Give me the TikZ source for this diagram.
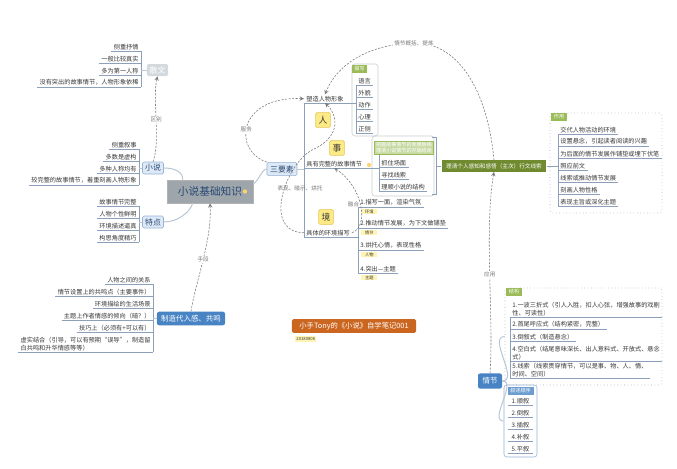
\documentclass[tikz,border=0pt]{standalone}
\usepackage{fontspec}
\setmainfont{Noto Sans CJK SC}
\usepackage{tikz}
\usetikzlibrary{positioning,arrows,calc}
\definecolor{LineGray}{RGB}{185,198,212}
\definecolor{ULine}{RGB}{140,160,185}
\definecolor{TextGray}{RGB}{55,55,55}
\definecolor{LightBlue}{RGB}{221,233,246}
\definecolor{BlueEdge}{RGB}{150,180,215}
\definecolor{DarkBlue}{RGB}{40,72,115}
\definecolor{MidBlue}{RGB}{72,132,196}
\definecolor{CenterGray}{RGB}{158,166,172}
\definecolor{PaleGray}{RGB}{212,217,222}
\definecolor{Yel}{RGB}{252,234,135}
\definecolor{YelEdge}{RGB}{232,196,80}
\definecolor{TagYel}{RGB}{255,244,180}
\definecolor{Grn}{RGB}{155,187,89}
\definecolor{Olive}{RGB}{112,138,48}
\definecolor{Rust}{RGB}{203,102,32}
\definecolor{DashGray}{RGB}{120,120,120}
\definecolor{BoxEdge}{RGB}{200,205,210}
\newcommand{\leaffont}{\fontsize{4.4}{5.6}\selectfont}
\newcommand{\tinyfont}{\fontsize{3.6}{4.2}\selectfont}

\begin{document}
\begin{tikzpicture}[x=0.025cm,y=-0.025cm,
	leaf/.style={inner xsep=1.5pt,inner ysep=0.8pt,font=\leaffont,text=TextGray},
	uline/.style={draw=ULine,line width=0.4pt},
	conn/.style={draw=LineGray,line width=0.7pt},
	topic/.style={rectangle,rounded corners=1pt,fill=LightBlue,draw=BlueEdge,text=DarkBlue,
		font=\fontsize{5.6}{6}\selectfont,inner sep=0pt},
	bluetopic/.style={rectangle,rounded corners=1.5pt,fill=MidBlue,text=white,
		font=\fontsize{5.3}{6}\selectfont,inner sep=0pt},
	yelbox/.style={rectangle,rounded corners=1pt,fill=Yel,draw=YelEdge,text=TextGray,
		font=\fontsize{6.2}{6.5}\selectfont,minimum size=0.37cm,inner sep=0pt},
	grnhead/.style={rectangle,fill=Grn,text=white,font=\tinyfont,minimum width=0.38cm,
		minimum height=0.2cm,inner sep=0pt},
	tagbox/.style={rectangle,fill=TagYel,text=TextGray,font=\fontsize{3}{3.5}\selectfont,
		inner sep=0.6pt,minimum width=0.4cm,anchor=north west},
	group/.style={rectangle,rounded corners=2pt,draw=BoxEdge,line width=0.4pt},
	dotgroup/.style={group,dotted,draw=gray!70},
	lbl/.style={font=\fontsize{4}{4.5}\selectfont,text=DashGray,inner sep=0.6pt},
	link/.style={draw=DashGray,dash pattern=on 1.5pt off 1pt,line width=0.4pt,->,>=stealth}]

	\useasboundingbox (0,0) rectangle (677,468);
	\fill[white] (0,0) rectangle (677,468);

	\node[rectangle,fill=CenterGray,draw=gray!60,text=DarkBlue,minimum width=2.15cm,
		minimum height=0.575cm,inner sep=0pt,font=\fontsize{7.6}{8}\selectfont] (root) at (210,191.5) {小说基础知识\hspace{0.25cm}};
	\node[circle,fill=Yel!80!orange,inner sep=0pt,minimum size=3pt] (rootdot) at (245,191.5) {};

	\node[topic,minimum width=0.525cm,minimum height=0.3cm] (xs) at (153,168) {小说};
	\node[topic,minimum width=0.525cm,minimum height=0.3cm] (td) at (153,222) {特点};
	\node[rectangle,rounded corners=1pt,fill=PaleGray,text=white,font=\fontsize{5.6}{6}\selectfont,
		minimum width=0.525cm,minimum height=0.3cm,inner sep=0pt] (sw) at (157.5,70) {散文};
	\node[topic,minimum width=0.75cm,minimum height=0.33cm] (sys) at (282,169) {三要素};
	\node[bluetopic,minimum width=1.7cm,minimum height=0.34cm] (zz) at (191,318.5) {制造代入感、共鸣};
	\node[bluetopic,minimum width=0.6cm,minimum height=0.38cm] (qj) at (490,381) {情节};

	\foreach \t [count=\i] in {侧重抒情,一般比较真实,多为第一人称,没有突出的故事情节，人物形象依稀} {
		\node[leaf,anchor=south east] (sw\i) at (141,{39+12*\i}) {\t};
		\draw[uline] (sw\i.south west) -- (sw\i.south east);
	}
	\draw[uline] (sw1.south east) -- (sw4.south east);
	\draw[conn] (sw.west) -- (sw.west -| sw1.south east);

	\foreach \t [count=\i] in {侧重叙事,多数是虚构,多种人称均有,较完整的故事情节，着重刻画人物形象} {
		\node[leaf,anchor=south east] (xs\i) at (139,{137+12*\i}) {\t};
		\draw[uline] (xs\i.south west) -- (xs\i.south east);
	}
	\draw[uline] (xs1.south east) -- (xs4.south east);
	\draw[conn] (xs.west) -- (xs.west -| xs1.south east);

	\foreach \t [count=\i] in {故事情节完整,人物个性鲜明,环境描述逼真,构思角度精巧} {
		\node[leaf,anchor=south east] (td\i) at (139,{194+12*\i}) {\t};
		\draw[uline] (td\i.south west) -- (td\i.south east);
	}
	\draw[uline] (td1.south east) -- (td4.south east);
	\draw[conn] (td.west) -- (td.west -| td1.south east);

	\foreach \t [count=\i] in {人物之间的关系,情节设置上的共鸣点（主要事件）,环境描绘的生活场景,主题上作者情感的倾向（暗？）,技巧上（必须有+可以有）} {
		\node[leaf,anchor=south east] (zl\i) at (153,{272+12*\i}) {\t};
		\draw[uline] (zl\i.south west) -- (zl\i.south east);
	}
	\node[leaf,anchor=south east,align=left] (zl6) at (153,352) {虚实结合（引导，可以有预期“误导”，制造留\\白共鸣和升华情感等等）};
	\draw[uline] (zl6.south west) -- (zl6.south east);
	\draw[uline] (zl1.south east) -- (zl6.south east);
	\draw[conn] (zz.west) -- (zz.west -| zl1.south east);

	\draw[conn] (xs.east) .. controls (175,168) and (183,172) .. ($(root.north west)+(16,0)$);
	\draw[conn] (td.east) .. controls (178,222) and (190,212) .. ($(root.south west)+(26,0)$);
	\draw[conn] (sys.west) .. controls (262,169) and (258,182) .. ($(root.north east)+(0,4)$);

	\node[leaf,anchor=south west] (sz) at (304,103) {塑造人物形象};
	\node[leaf,anchor=south west] (gs) at (304,168) {具有完整的故事情节};
	\node[leaf,anchor=south west] (hj) at (304,237) {具体的环境描写};
	\draw[uline] (sz.south west) -- (sz.south east);
	\draw[uline] (gs.south west) -- (gs.south east);
	\draw[uline] (hj.south west) -- (hj.south east);
	\draw[uline] (sz.south west) -- (hj.south west);
	\draw[conn] (sys.east) -- (sys.east -| gs.south west);
	\node[circle,fill=Yel!80!orange,inner sep=0pt,minimum size=3pt] (gsdot) at (369,165) {};

	\node[yelbox] (ren) at (323,120) {人};
	\node[yelbox] (shi) at (337,148) {事};
	\node[yelbox] (jing) at (326,217) {境};

	\node[group,minimum width=0.65cm,minimum height=1.8cm] (mbox) at (365,100) {};
	\node[grnhead] (mx) at (359.5,69) {描写};
	\foreach \t [count=\i] in {语言,外貌,动作,心理,正侧} {
		\node[leaf,anchor=south west] (ms\i) at (356,{73+12*\i}) {\t};
		\draw[uline] (ms\i.south west) -- (ms\i.south east);
	}
	\draw[uline] (ms1.south west) -- (ms5.south west);
	\draw[uline] (sz.south east) -- (sz.south east -| ms1.south west);

	\node[group,minimum width=1.55cm,minimum height=1.5cm] (sbox) at (403,166) {};
	\node[rectangle,fill=Grn!55,draw=Grn,text=white,font=\tinyfont,align=center,inner sep=1pt,
		minimum width=1.35cm] (note) at (404,148) {把握故事情节的发展脉络\\理清小说情节的开端结局};
	\foreach \t [count=\i] in {抓住场面,寻找线索,理顺小说的结构} {
		\node[leaf,anchor=south west] (ss\i) at (379,{155+12*\i}) {\t};
		\draw[uline] (ss\i.south west) -- (ss\i.south east);
	}
	\draw[uline] (ss1.south west |- note.south) -- (ss3.south west);
	\draw[uline] (gs.south east) -- (gs.south east -| ss1.south west);

	\node[rectangle,fill=Olive,text=white,font=\fontsize{4}{5}\selectfont,minimum width=2.62cm,
		minimum height=0.28cm,inner sep=0pt] (lead) at (494,166) {理清个人感知和感悟（主次）行文线索};
	\draw[uline] ($(sbox.north east)+(-2,2)$) -- ($(sbox.north east)+(2,2)$)
		-- ($(sbox.south east)+(2,-2)$) -- ($(sbox.south east)+(-2,-2)$);
	\draw[uline] ($(sbox.east)+(2,0)$) -- (lead.west);

	\node[leaf,anchor=south west] (hl1) at (358,207) {1.描写一面，渲染气氛};
	\node[leaf,anchor=south west] (hl2) at (358,228) {2.推动情节发展，为下文做铺垫};
	\node[leaf,anchor=south west] (hl3) at (358,250) {3.烘托心情，表现性格};
	\node[leaf,anchor=south west] (hl4) at (358,273) {4.突出—主题};
	\foreach \t [count=\i] in {环境,情节,人物,主题} {
		\draw[uline] (hl\i.south west) -- (hl\i.south east);
		\node[tagbox] (ht\i) at ($(hl\i.south west)+(3,1.5)$) {\t};
	}
	\draw[uline] (hl1.south west) -- (hl4.south west);
	\draw[uline] (hj.south east) -- (hj.south east -| hl1.south west);

	\node[dotgroup,minimum width=2.8cm,minimum height=2.5cm] (zbox) at (606,163) {};
	\node[grnhead] (zy) at (559,117) {作用};
	\foreach \t [count=\i] in {交代人物活动的环境,设置悬念，引起读者阅读的兴趣,为后面的情节发展作铺垫或埋下伏笔,照应前文,线索或推动情节发展,刻画人物性格,表现主旨或深化主题} {
		\node[leaf,anchor=south west] (zyl\i) at (558,{122+12*\i}) {\t};
		\draw[uline] (zyl\i.south west) -- (zyl\i.south east);
	}
	\draw[uline] (zyl1.south west) -- (zyl7.south west);
	\draw[uline] (lead.east) -- (lead.east -| zyl1.south west);

	\node[dotgroup,minimum width=3.925cm,minimum height=2.425cm] (jbox) at (583.5,336.5) {};
	\node[grnhead] (jt) at (514,292) {结构};
	\node[leaf,anchor=south west,align=left] (jl1) at (510,317) {1.一波三折式（引人入胜，扣人心弦，增强故事的戏剧\\性、可读性）};
	\node[leaf,anchor=south west] (jl2) at (510,329) {2.首尾呼应式（结构紧密，完整）};
	\node[leaf,anchor=south west] (jl3) at (510,341) {3.倒叙式（制造悬念）};
	\node[leaf,anchor=south west,align=left] (jl4) at (510,361) {4.空白式（结尾意味深长、出人意料式、开放式、悬念\\式）};
	\node[leaf,anchor=south west,align=left] (jl5) at (510,378) {5.线索（线索贯穿情节，可以是事、物、人、情、\\时间、空间）};
	\foreach \i in {1,...,5} \draw[uline] (jl\i.south west) -- (jl\i.south east);
	\draw[uline] (jl1.south west) -- (jl5.south west);

	\node[group,draw=BlueEdge,minimum width=0.825cm,minimum height=1.8cm] (xbox) at (520.5,421) {};
	\node[rectangle,fill=MidBlue!80,text=white,font=\tinyfont,minimum width=0.65cm,
		minimum height=0.2cm,inner sep=0pt] (xh) at (520.5,391) {叙述顺序};
	\foreach \t [count=\i] in {1.顺叙,2.倒叙,3.插叙,4.补叙,5.平叙} {
		\node[leaf,anchor=south,minimum width=0.625cm] (xl\i) at (520.5,{393+12*\i}) {\t};
		\draw[uline] (xl\i.south west) -- (xl\i.south east);
	}
	\draw[conn] (qj.east) to[out=0,in=180] (jbox.west);
	\draw[conn] (qj.east) to[out=0,in=180] (xbox.west);

	\node[rectangle,rounded corners=1pt,fill=Rust,text=white,font=\fontsize{5.2}{6}\selectfont,
		minimum width=3.1cm,minimum height=0.34cm,inner sep=0pt] (ttl) at (354,326) {小手Tony的《小说》自学笔记001};
	\node[rectangle,fill=TagYel,text=TextGray,font=\fontsize{3}{3.5}\selectfont,inner sep=0.8pt,
		anchor=west] (dt) at (295,339) {20180806};

	\draw[link] (xs.north) .. controls (161,140) and (152,100) .. (sw.south) node[lbl,pos=0.5,fill=white] {区别};
	\draw[link] (zz.north) .. controls (196,280) and (212,240) .. (root.south) node[lbl,pos=0.5,fill=white] {手段};
	\draw[link] (sys.north west) .. controls (232,150) and (238,96) .. (sz.west) node[lbl,pos=0.45,fill=white] {服务};
	\draw[link] (hj.west) .. controls (262,232) and (285,165) .. (312,150) .. controls (345,135) and (335,112) .. (sz.south);
	\node[lbl] (bx) at (300,188) {表现、暗示、烘托};
	\draw[link] (hj.east) .. controls (370,226) and (362,186) .. (gs.south) node[lbl,pos=0.5,left] {融合};
	\draw[link] (lead.north) .. controls (487,85) and (455,42) .. (414,43) node[lbl,fill=white] {情节概括、提炼}
		.. controls (372,44) and (338,62) .. (sz.north);
	\draw[link] (qj.north) .. controls (494,320) and (484,230) .. (lead.south) node[lbl,pos=0.5,fill=white] {应用};
\end{tikzpicture}
\end{document}
